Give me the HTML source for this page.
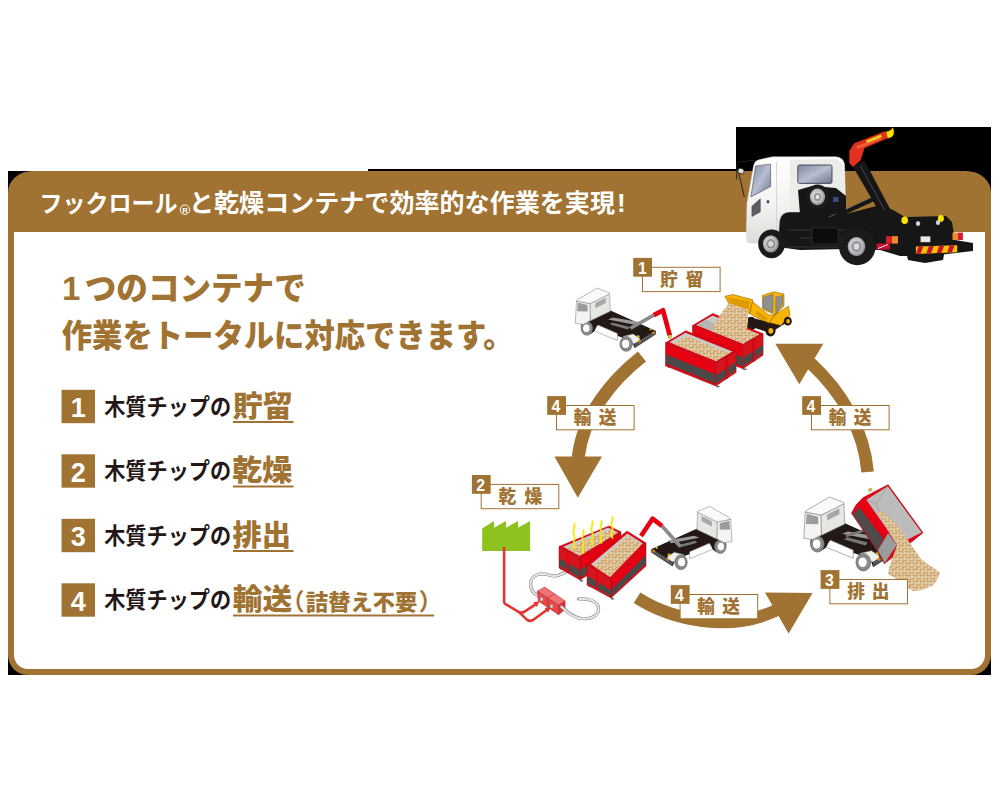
<!DOCTYPE html><html><head><meta charset="utf-8"><style>html,body{margin:0;padding:0;background:#fff}svg{display:block}text{font-family:"Liberation Sans","Noto Sans CJK JP",sans-serif}</style></head><body><svg width="1000" height="800" viewBox="0 0 1000 800"><defs><pattern id="chips" width="7" height="6" patternUnits="userSpaceOnUse"><rect width="7" height="6" fill="#d6b583"/><path d="M0.5 1.5l2.6 -1M3.8 3.4l2.4 0.9M1 4.6l2 -0.9M4.6 0.8l1.6 1.1" stroke="#f3e3c6" stroke-width="1.1"/><path d="M2.2 2.9l1.3 0.9M5.6 5.2l1 -0.8M0.2 3.4l0.9 0.5M3.2 5.6l1.2 0.2" stroke="#a77f4c" stroke-width="0.8"/></pattern><linearGradient id="gcab" x1="0" y1="0" x2="0" y2="1"><stop offset="0" stop-color="#ffffff"/><stop offset="0.55" stop-color="#f3f3f1"/><stop offset="1" stop-color="#dcdcda"/></linearGradient><linearGradient id="gwin" x1="0" y1="0" x2="1" y2="1"><stop offset="0" stop-color="#7d849c"/><stop offset="0.5" stop-color="#b9bed0"/><stop offset="1" stop-color="#6c728a"/></linearGradient><radialGradient id="grim" cx="0.45" cy="0.45" r="0.6"><stop offset="0" stop-color="#f2f2f2"/><stop offset="0.55" stop-color="#c4c6c9"/><stop offset="1" stop-color="#7e8185"/></radialGradient></defs><rect x="736" y="127" width="255" height="66" fill="#000"/><rect x="368" y="169" width="368" height="2" fill="#000"/><rect x="8" y="171" width="26" height="21" fill="#000"/><rect x="8" y="654" width="21" height="21" fill="#000"/><rect x="970" y="654" width="21" height="21" fill="#000"/><path fill="#A17332" d="M33 171H966A25 21 0 0 1 991 192V655A20 20 0 0 1 971 675H28A20 20 0 0 1 8 655V192A25 21 0 0 1 33 171Z"/><path fill="#fff" d="M14 232H985V655A14 14 0 0 1 971 669H28A14 14 0 0 1 14 655Z"/><text x="39.6" y="212.3" font-size="24" font-weight="700" fill="#fff" textLength="138" lengthAdjust="spacingAndGlyphs">フックロール</text><text x="188.96" y="212.3" font-size="25" font-weight="700" fill="#fff" textLength="426" lengthAdjust="spacingAndGlyphs">と乾燥コンテナで効率的な作業を実現</text><text x="617" y="212.3" font-size="26" font-weight="700" fill="#fff">!</text><circle cx="184.9" cy="209.7" r="4.7" fill="none" stroke="#fff" stroke-width="1"/><text x="185" y="212.6" font-size="7.6" font-weight="700" fill="#fff" text-anchor="middle">R</text><text x="62" y="300" font-size="33" font-weight="900" fill="#A17332">1</text><text x="84.76" y="300.2" font-size="32.6" font-weight="900" fill="#A17332" textLength="221" lengthAdjust="spacingAndGlyphs">つのコンテナで</text><text x="61.73" y="346.6" font-size="32" font-weight="900" fill="#A17332" textLength="452" lengthAdjust="spacingAndGlyphs">作業をトータルに対応できます。</text><rect x="61.5" y="389.8" width="33.5" height="33.4" fill="#A17332"/><text x="78.25" y="417" font-size="27" font-weight="700" fill="#fff" text-anchor="middle">1</text><text x="104.17" y="414.99" font-size="22.3" font-weight="700" fill="#231815" textLength="127" lengthAdjust="spacingAndGlyphs">木質チップの</text><text x="232.65" y="416.76" font-size="29" font-weight="900" fill="#A17332" textLength="60" lengthAdjust="spacingAndGlyphs">貯留</text><rect x="233" y="421.0" width="60.5" height="2" fill="#A17332"/><rect x="61.5" y="454.3" width="33.5" height="33.4" fill="#A17332"/><text x="78.25" y="482.3" font-size="27" font-weight="700" fill="#fff" text-anchor="middle">2</text><text x="104.17" y="479.49" font-size="22.3" font-weight="700" fill="#231815" textLength="127" lengthAdjust="spacingAndGlyphs">木質チップの</text><text x="232.16" y="481.26" font-size="29" font-weight="900" fill="#A17332" textLength="60" lengthAdjust="spacingAndGlyphs">乾燥</text><rect x="233" y="485.5" width="60.5" height="2" fill="#A17332"/><rect x="61.5" y="518.8" width="33.5" height="33.4" fill="#A17332"/><text x="78.25" y="546.41" font-size="27" font-weight="700" fill="#fff" text-anchor="middle">3</text><text x="104.17" y="543.99" font-size="22.3" font-weight="700" fill="#231815" textLength="127" lengthAdjust="spacingAndGlyphs">木質チップの</text><text x="232.51" y="545.76" font-size="29" font-weight="900" fill="#A17332" textLength="58.5" lengthAdjust="spacingAndGlyphs">排出</text><rect x="233" y="550.0" width="60.5" height="2" fill="#A17332"/><rect x="61.5" y="583.3" width="33.5" height="33.4" fill="#A17332"/><text x="78.25" y="611.3" font-size="27" font-weight="700" fill="#fff" text-anchor="middle">4</text><text x="104.17" y="608.49" font-size="22.3" font-weight="700" fill="#231815" textLength="127" lengthAdjust="spacingAndGlyphs">木質チップの</text><text x="232.7" y="610.26" font-size="29" font-weight="900" fill="#A17332" textLength="59.5" lengthAdjust="spacingAndGlyphs">輸送</text><rect x="233" y="614.5" width="201.0" height="2" fill="#A17332"/><text x="305.86" y="609.66" font-size="21.5" font-weight="900" fill="#A17332" textLength="111.4" lengthAdjust="spacingAndGlyphs">詰替え不要</text><text x="280.92" y="610.16" font-size="23.5" font-weight="700" fill="#A17332">（</text><text x="418.64" y="610.16" font-size="23.5" font-weight="700" fill="#A17332">）</text><path d="M642 356.5C612 380 583 415 578.2 457.5" fill="none" stroke="#A17332" stroke-width="13"/><path d="M554.4 456.4H602L577.8 497.7Z" fill="#A17332"/><path d="M867.6 472C864 430 842 392 810.5 363" fill="none" stroke="#A17332" stroke-width="12.5"/><path d="M775.3 343.8H823.3L799.3 384.2Z" fill="#A17332"/><path d="M637 597.8C672 620 730 633 778 609.5" fill="none" stroke="#A17332" stroke-width="12.5"/><path d="M765 592.4L812.6 593L788.6 633.6Z" fill="#A17332"/><path d="M596.0 316.0L610.5 310.5L656.0 331.0L655.5 334.5L634.5 348.0L632.0 341.0L582.5 323.5L585.0 318.0Z" fill="#231815"/><path d="M594.0 330.0L598.0 325.0L617.5 333.5L617.5 340.5L594.5 331.0Z" fill="#fff" stroke="#8c8c8c" stroke-width="0.6" stroke-linejoin="round"/><path d="M608.0 319.5L613.0 317.5L639.0 322.0L636.0 325.0Z" fill="#9a9a9a"/><path d="M612.0 322.5L630.0 327.0L628.0 329.5L610.0 324.5Z" fill="#777"/><path d="M623.0 336.5L633.0 334.0L640.0 338.5L638.0 345.0L627.0 341.0Z" fill="#f0f0ee" stroke="#8c8c8c" stroke-width="0.5" stroke-linejoin="round"/><path d="M634.5 343.5L655.3 330.5L655.8 334.0L635.0 348.0Z" fill="#555"/><circle cx="639.5" cy="341.3" r="1.3" fill="#f08300"/><circle cx="653.4" cy="332.8" r="1.3" fill="#f08300"/><circle cx="638.2" cy="336.6" r="1.4" fill="#d8c21a"/><circle cx="650.5" cy="329.5" r="1.1" fill="#d8c21a"/><ellipse cx="588.5" cy="326.5" rx="7.5" ry="7.5" fill="#231815"/><ellipse cx="586.9" cy="328.3" rx="5.9" ry="6.9" fill="#8a8a8a" stroke="#555" stroke-width="0.5"/><ellipse cx="586.3" cy="328.3" rx="3.2" ry="3.8" fill="#fff"/><ellipse cx="626.2" cy="343.9" rx="6.3" ry="7.4" fill="#8a8a8a" stroke="#555" stroke-width="0.5"/><ellipse cx="625.6" cy="343.9" rx="3.5" ry="4.1" fill="#fff"/><path d="M576.5 301.0L590.1 303.6L590.4 320.5L583.0 324.5L575.3 323.3Z" fill="#f4f4f2" stroke="#8c8c8c" stroke-width="0.6" stroke-linejoin="round"/><path d="M590.1 303.6L609.6 293.7L610.3 311.2L590.4 320.8Z" fill="#e6e6e3" stroke="#8c8c8c" stroke-width="0.6" stroke-linejoin="round"/><path d="M576.5 301.0L578.0 299.3L597.3 288.1L609.6 293.0L609.6 293.9L590.1 303.6Z" fill="#fafaf8" stroke="#8c8c8c" stroke-width="0.6" stroke-linejoin="round"/><path d="M577.8 302.4L587.6 304.9L587.6 311.4L577.1 311.2Z" fill="#9c9c9c"/><path d="M595.3 303.0L605.7 297.7L605.7 302.9L595.3 308.2Z" fill="#a8a8a8"/><path d="M630.5 328.3L653.8 315.1" stroke="#8a8a8a" stroke-width="3.6" fill="none"/><path d="M653.8 315.1L663.0 310.3L669.8 335.5" stroke="#e60012" stroke-width="4.7" stroke-linejoin="round" fill="none"/><rect x="668.2" y="335.0" width="3.2" height="3.2" fill="#e8d21a" stroke="#666" stroke-width="0.4"/><ellipse cx="751" cy="323.5" rx="5.8" ry="6.8" fill="#231815"/><path d="M752.0 318.0L770.0 322.0L780.0 316.0L786.0 323.0L770.0 333.0L752.0 327.0Z" fill="#231815"/><path d="M775.0 315.0L788.5 306.0L790.0 315.0L781.0 325.5L769.0 322.5Z" fill="#f8b500" stroke="#7a4a00" stroke-width="0.5" stroke-linejoin="round"/><path d="M752.5 301.5L769.0 315.0L775.0 315.0L769.0 323.0L757.0 318.0L749.5 313.5Z" fill="#f8b500" stroke="#7a4a00" stroke-width="0.5" stroke-linejoin="round"/><path d="M757.0 311.0L768.0 318.0L766.0 321.0L756.0 315.0Z" fill="#e09a00"/><path d="M762.3 295.5L773.5 291.8L784.0 294.0L784.0 306.0L775.0 315.0L763.0 309.0Z" fill="#f8b500" stroke="#7a4a00" stroke-width="0.5" stroke-linejoin="round"/><path d="M763.8 297.0L773.2 294.2L772.6 312.5L762.6 307.5Z" fill="#8f8f8f" stroke="#555" stroke-width="0.4" stroke-linejoin="round"/><path d="M775.8 297.0L782.5 295.6L782.5 304.5L775.8 314.0Z" fill="#8f8f8f" stroke="#555" stroke-width="0.4" stroke-linejoin="round"/><path d="M724.8 296.3L733.0 294.5L752.8 299.8L749.5 313.5L729.3 304.5Z" fill="#f8b500" stroke="#7a4a00" stroke-width="0.5" stroke-linejoin="round"/><path d="M727.0 297.2L750.0 301.2L748.0 310.5L730.5 303.3Z" fill="#e09a00"/><ellipse cx="770.5" cy="330.8" rx="5.1" ry="5.7" fill="#231815"/><ellipse cx="770.8" cy="330.8" rx="2.4" ry="2.9" fill="#f8b500"/><ellipse cx="787.8" cy="321.2" rx="4.0" ry="4.4" fill="#231815"/><ellipse cx="788.1" cy="321.2" rx="1.8" ry="2.2" fill="#f8b500"/><ellipse cx="696.0" cy="349.5" rx="2" ry="1" fill="#777"/><ellipse cx="744.8" cy="369.3" rx="2" ry="1" fill="#777"/><path d="M692.5 325.5L742.8 345.7L742.8 368.7L692.5 348.5Z" fill="#e60012" stroke="#8f0f12" stroke-width="0.5" stroke-linejoin="round"/><path d="M692.9 337.0L742.5 357.2L742.5 366.4L692.9 346.2Z" fill="#4d4848"/><path d="M742.8 345.7L763.1 333.7L763.1 355.2L742.8 368.7Z" fill="#d7141c" stroke="#8f0f12" stroke-width="0.5" stroke-linejoin="round"/><path d="M743.2 357.7L762.8 344.9L762.8 352.6L743.2 366.4Z" fill="#4d4848"/><path d="M752.9 339.7v22.2" stroke="#8f0f12" stroke-width="0.7"/><path d="M754.3 340.2v21.2" stroke="#e60012" stroke-width="1.6"/><path d="M692.5 325.5L712.8 313.5L763.1 333.7L742.8 345.7Z" fill="#e60012" stroke="#8f0f12" stroke-width="0.5" stroke-linejoin="round"/><clipPath id="cl1"><path d="M696.3 325.0L712.5 315.4L759.3 334.2L743.1 343.8Z" fill="#000"/></clipPath><path d="M696.3 325.0L712.5 315.4L759.3 334.2L743.1 343.8Z" fill="#c9caca"/><g clip-path="url(#cl1)"><path d="M696.3 325.0L705.4 319.6L752.2 338.4L743.1 343.8Z" fill="#b5b5b6"/><path d="M709.6 330.4L731.9 322.2L760.3 333.6L743.1 343.8Z" fill="url(#chips)"/></g><path d="M729.0 303.0L748.0 309.5L748.0 322.0L746.0 334.0L742.7 343.3L711.5 330.7L716.0 322.0L722.0 312.0Z" fill="url(#chips)"/><ellipse cx="669.0" cy="366.8" rx="2" ry="1" fill="#777"/><ellipse cx="717.8" cy="386.6" rx="2" ry="1" fill="#777"/><path d="M665.5 342.8L715.8 363.0L715.8 386.0L665.5 365.8Z" fill="#e60012" stroke="#8f0f12" stroke-width="0.5" stroke-linejoin="round"/><path d="M665.9 354.3L715.5 374.5L715.5 383.7L665.9 363.5Z" fill="#4d4848"/><path d="M715.8 363.0L736.1 351.0L736.1 372.5L715.8 386.0Z" fill="#d7141c" stroke="#8f0f12" stroke-width="0.5" stroke-linejoin="round"/><path d="M716.2 375.0L735.8 362.2L735.8 369.9L716.2 383.7Z" fill="#4d4848"/><path d="M725.9 357.0v22.2" stroke="#8f0f12" stroke-width="0.7"/><path d="M727.3 357.5v21.2" stroke="#e60012" stroke-width="1.6"/><path d="M665.5 342.8L685.8 330.8L736.1 351.0L715.8 363.0Z" fill="#e60012" stroke="#8f0f12" stroke-width="0.5" stroke-linejoin="round"/><clipPath id="cl2"><path d="M669.3 342.3L685.5 332.7L732.3 351.5L716.1 361.1Z" fill="#000"/></clipPath><path d="M669.3 342.3L685.5 332.7L732.3 351.5L716.1 361.1Z" fill="#c9caca"/><g clip-path="url(#cl2)"><path d="M670.5 345.5L686.7 335.9L733.5 354.7L717.3 364.3Z" fill="url(#chips)"/></g><path d="M482.2 551.0L482.2 528.6L494.0 520.9L494.0 527.7L506.1 520.9L506.1 527.7L518.1 520.9L518.1 527.7L530.1 520.9L530.1 551.0Z" fill="#8dc21f"/><path d="M504.1 546.9V601.5Q504.1 603.2 505.6 604.1L518.5 611.8Q521.6 613.6 524.6 611.6L535.5 604.3" fill="none" stroke="#e8342f" stroke-width="2.6"/><path d="M519 612L526.8 619.6Q530 622 533.4 619.7L546.8 610" fill="none" stroke="#e8342f" stroke-width="2.6"/><path d="M539.6 601.3L533.2 602.2L536.6 607.0Z" fill="#e8342f"/><path d="M551.0 606.8L544.6 607.9L548.2 612.6Z" fill="#e8342f"/><path d="M568 570.5C560 575 556 577.5 549 575C541 572 531 575 530.6 583C530.3 589.5 533.5 593.5 538 595.5" fill="none" stroke="#8a8a8a" stroke-width="3.2" stroke-linecap="round"/><path d="M568 570.5C560 575 556 577.5 549 575C541 572 531 575 530.6 583C530.3 589.5 533.5 593.5 538 595.5" fill="none" stroke="#e4e4e4" stroke-width="2.1" stroke-linecap="round" stroke-dasharray="1.3 0.9"/><path d="M537.4 591.1L558.6 604.9L558.6 614.7L538.2 600.9Z" fill="#e8474a" stroke="#b51f24" stroke-width="0.5" stroke-linejoin="round"/><path d="M558.6 604.9L565.1 600.9L565.1 609.2L558.6 614.7Z" fill="#d93237" stroke="#b51f24" stroke-width="0.5" stroke-linejoin="round"/><path d="M537.4 591.1L544.7 587.1L565.1 600.9L558.6 604.9Z" fill="#ef7475" stroke="#b51f24" stroke-width="0.5" stroke-linejoin="round"/><path d="M547.8 597.8L555 593.9M547.8 597.8V607.8" stroke="#b51f24" stroke-width="0.5" fill="none"/><ellipse cx="541.6" cy="599.2" rx="1.5" ry="1.9" fill="#ddd" stroke="#777" stroke-width="0.5"/><ellipse cx="551.6" cy="606.2" rx="1.5" ry="1.9" fill="#ddd" stroke="#777" stroke-width="0.5"/><path d="M561.5 606.8C567 611.5 571 616 579 618C590 620.5 598.5 616 598.6 608.5C598.7 601.5 589 598.3 578.5 599" fill="none" stroke="#8a8a8a" stroke-width="3.2" stroke-linecap="round"/><path d="M561.5 606.8C567 611.5 571 616 579 618C590 620.5 598.5 616 598.6 608.5C598.7 601.5 589 598.3 578.5 599" fill="none" stroke="#e4e4e4" stroke-width="2.1" stroke-linecap="round" stroke-dasharray="1.3 0.9"/><g transform="translate(1307.2,218.3) scale(-1,1)"><path d="M596.0 316.0L610.5 310.5L656.0 331.0L655.5 334.5L634.5 348.0L632.0 341.0L582.5 323.5L585.0 318.0Z" fill="#231815"/><path d="M594.0 330.0L598.0 325.0L617.5 333.5L617.5 340.5L594.5 331.0Z" fill="#fff" stroke="#8c8c8c" stroke-width="0.6" stroke-linejoin="round"/><path d="M608.0 319.5L613.0 317.5L639.0 322.0L636.0 325.0Z" fill="#9a9a9a"/><path d="M612.0 322.5L630.0 327.0L628.0 329.5L610.0 324.5Z" fill="#777"/><path d="M623.0 336.5L633.0 334.0L640.0 338.5L638.0 345.0L627.0 341.0Z" fill="#f0f0ee" stroke="#8c8c8c" stroke-width="0.5" stroke-linejoin="round"/><path d="M634.5 343.5L655.3 330.5L655.8 334.0L635.0 348.0Z" fill="#555"/><circle cx="639.5" cy="341.3" r="1.3" fill="#f08300"/><circle cx="653.4" cy="332.8" r="1.3" fill="#f08300"/><circle cx="638.2" cy="336.6" r="1.4" fill="#d8c21a"/><circle cx="650.5" cy="329.5" r="1.1" fill="#d8c21a"/><ellipse cx="588.5" cy="326.5" rx="7.5" ry="7.5" fill="#231815"/><ellipse cx="586.9" cy="328.3" rx="5.9" ry="6.9" fill="#8a8a8a" stroke="#555" stroke-width="0.5"/><ellipse cx="586.3" cy="328.3" rx="3.2" ry="3.8" fill="#fff"/><ellipse cx="626.2" cy="343.9" rx="6.3" ry="7.4" fill="#8a8a8a" stroke="#555" stroke-width="0.5"/><ellipse cx="625.6" cy="343.9" rx="3.5" ry="4.1" fill="#fff"/><path d="M576.5 301.0L590.1 303.6L590.4 320.5L583.0 324.5L575.3 323.3Z" fill="#f4f4f2" stroke="#8c8c8c" stroke-width="0.6" stroke-linejoin="round"/><path d="M590.1 303.6L609.6 293.7L610.3 311.2L590.4 320.8Z" fill="#e6e6e3" stroke="#8c8c8c" stroke-width="0.6" stroke-linejoin="round"/><path d="M576.5 301.0L578.0 299.3L597.3 288.1L609.6 293.0L609.6 293.9L590.1 303.6Z" fill="#fafaf8" stroke="#8c8c8c" stroke-width="0.6" stroke-linejoin="round"/><path d="M577.8 302.4L587.6 304.9L587.6 311.4L577.1 311.2Z" fill="#9c9c9c"/><path d="M595.3 303.0L605.7 297.7L605.7 302.9L595.3 308.2Z" fill="#a8a8a8"/><path d="M627.2 327.7L645.2 307.7" stroke="#8a8a8a" stroke-width="3.6" fill="none"/><path d="M645.2 307.7L654.6 300.4L666.2 317.7" stroke="#e60012" stroke-width="4.7" stroke-linejoin="round" fill="none"/></g><ellipse cx="561.5" cy="568.7" rx="1.8" ry="1" fill="#777"/><ellipse cx="581.5" cy="580.8" rx="1.8" ry="1" fill="#777"/><path d="M580.0 558.0L621.0 532.0L621.0 554.0L580.0 580.0Z" fill="#e60012" stroke="#8f0f12" stroke-width="0.5" stroke-linejoin="round"/><path d="M580.3 569.4L620.7 543.4L620.7 551.8L580.3 577.8Z" fill="#4d4848"/><path d="M559.0 546.4L580.0 558.0L580.0 580.0L559.0 567.9Z" fill="#d7141c" stroke="#8f0f12" stroke-width="0.5" stroke-linejoin="round"/><path d="M559.3 558.2L579.7 570.1L579.7 577.8L559.3 565.8Z" fill="#4d4848"/><path d="M567.8 551.8v20.8" stroke="#e60012" stroke-width="1.8"/><path d="M559.0 546.4L609.0 526.0L621.0 532.0L580.0 558.0Z" fill="#e60012" stroke="#8f0f12" stroke-width="0.5" stroke-linejoin="round"/><clipPath id="cl3"><path d="M563.1 546.7L608.2 527.4L618.1 532.4L579.6 555.8Z" fill="#000"/></clipPath><path d="M563.1 546.7L608.2 527.4L618.1 532.4L579.6 555.8Z" fill="#c9caca"/><g clip-path="url(#cl3)"><path d="M564.1 549.3L609.2 530.0L619.1 535.0L580.6 558.4Z" fill="url(#chips)"/></g><ellipse cx="589.5" cy="585.8" rx="1.8" ry="1" fill="#777"/><ellipse cx="612.5" cy="598.8" rx="1.8" ry="1" fill="#777"/><path d="M611.0 580.0L646.0 543.0L646.0 566.0L611.0 598.0Z" fill="#e60012" stroke="#8f0f12" stroke-width="0.5" stroke-linejoin="round"/><path d="M611.3 589.4L645.7 555.0L645.7 563.7L611.3 596.2Z" fill="#4d4848"/><path d="M587.0 564.0L611.0 580.0L611.0 598.0L587.0 585.0Z" fill="#d7141c" stroke="#8f0f12" stroke-width="0.5" stroke-linejoin="round"/><path d="M587.3 575.5L610.7 589.9L610.7 596.2L587.3 582.9Z" fill="#4d4848"/><path d="M597.1 571.2v18.5" stroke="#e60012" stroke-width="1.8"/><path d="M587.0 564.0L627.0 531.0L646.0 543.0L611.0 580.0Z" fill="#e60012" stroke="#8f0f12" stroke-width="0.5" stroke-linejoin="round"/><clipPath id="cl4"><path d="M591.0 564.3L627.3 533.5L642.7 543.3L610.0 576.9Z" fill="#000"/></clipPath><path d="M591.0 564.3L627.3 533.5L642.7 543.3L610.0 576.9Z" fill="#c9caca"/><g clip-path="url(#cl4)"><path d="M592.0 566.9L628.3 536.1L643.7 545.9L611.0 579.5Z" fill="url(#chips)"/></g><path d="M574.5 548.0C571.4 542.7 576.6 540.1 574.0 534.8S576.4 527.6 574.3 524.0" fill="none" stroke="#ffe600" stroke-width="1.8" stroke-linecap="round"/><path d="M583.5 553.0C580.4 547.9 585.6 545.4 583.0 540.4S585.4 533.5 583.3 530.0" fill="none" stroke="#ffe600" stroke-width="1.8" stroke-linecap="round"/><path d="M592.5 545.0C589.4 539.7 594.6 537.1 592.0 531.8S594.4 524.6 592.3 521.0" fill="none" stroke="#ffe600" stroke-width="1.8" stroke-linecap="round"/><path d="M601.5 543.0C598.4 538.2 603.6 535.7 601.0 530.9S603.4 524.3 601.3 521.0" fill="none" stroke="#ffe600" stroke-width="1.8" stroke-linecap="round"/><path d="M612.5 538.0C609.4 533.4 614.6 531.1 612.0 526.5S614.4 520.1 612.3 517.0" fill="none" stroke="#ffe600" stroke-width="1.8" stroke-linecap="round"/><g transform="translate(130.7,159.9) scale(1.17)"><path d="M596.0 316.0L610.5 310.5L656.0 331.0L655.5 334.5L634.5 348.0L632.0 341.0L582.5 323.5L585.0 318.0Z" fill="#231815"/><path d="M594.0 330.0L598.0 325.0L617.5 333.5L617.5 340.5L594.5 331.0Z" fill="#fff" stroke="#8c8c8c" stroke-width="0.6" stroke-linejoin="round"/><path d="M608.0 319.5L613.0 317.5L639.0 322.0L636.0 325.0Z" fill="#9a9a9a"/><path d="M612.0 322.5L630.0 327.0L628.0 329.5L610.0 324.5Z" fill="#777"/><path d="M623.0 336.5L633.0 334.0L640.0 338.5L638.0 345.0L627.0 341.0Z" fill="#f0f0ee" stroke="#8c8c8c" stroke-width="0.5" stroke-linejoin="round"/><path d="M634.5 343.5L655.3 330.5L655.8 334.0L635.0 348.0Z" fill="#555"/><circle cx="639.5" cy="341.3" r="1.3" fill="#f08300"/><circle cx="653.4" cy="332.8" r="1.3" fill="#f08300"/><circle cx="638.2" cy="336.6" r="1.4" fill="#d8c21a"/><circle cx="650.5" cy="329.5" r="1.1" fill="#d8c21a"/><ellipse cx="588.5" cy="326.5" rx="7.5" ry="7.5" fill="#231815"/><ellipse cx="586.9" cy="328.3" rx="5.9" ry="6.9" fill="#8a8a8a" stroke="#555" stroke-width="0.5"/><ellipse cx="586.3" cy="328.3" rx="3.2" ry="3.8" fill="#fff"/><ellipse cx="626.2" cy="343.9" rx="6.3" ry="7.4" fill="#8a8a8a" stroke="#555" stroke-width="0.5"/><ellipse cx="625.6" cy="343.9" rx="3.5" ry="4.1" fill="#fff"/><path d="M576.5 301.0L590.1 303.6L590.4 320.5L583.0 324.5L575.3 323.3Z" fill="#f4f4f2" stroke="#8c8c8c" stroke-width="0.6" stroke-linejoin="round"/><path d="M590.1 303.6L609.6 293.7L610.3 311.2L590.4 320.8Z" fill="#e6e6e3" stroke="#8c8c8c" stroke-width="0.6" stroke-linejoin="round"/><path d="M576.5 301.0L578.0 299.3L597.3 288.1L609.6 293.0L609.6 293.9L590.1 303.6Z" fill="#fafaf8" stroke="#8c8c8c" stroke-width="0.6" stroke-linejoin="round"/><path d="M577.8 302.4L587.6 304.9L587.6 311.4L577.1 311.2Z" fill="#9c9c9c"/><path d="M595.3 303.0L605.7 297.7L605.7 302.9L595.3 308.2Z" fill="#a8a8a8"/></g><path d="M846 536L872 528" stroke="#777" stroke-width="2.6"/><path d="M851.5 513.2L856.0 505.0L862.9 497.7L888.1 484.7L923.0 532.7L884.4 563.8L877.2 551.0Z" fill="#e60012" stroke="#8f0f12" stroke-width="0.6" stroke-linejoin="round"/><path d="M852.6 514.0L859.4 507.6L883.2 538.6L877.7 550.4Z" fill="#4f4b4b"/><path d="M866.3 499.8L887.8 486.2L921.6 532.6L897.0 544.9L888.9 531.9Z" fill="#bcbcbd"/><path d="M866.3 499.8L876 503.5L888.9 531.9M876 503.5L887.8 486.2" stroke="#8d8d8d" stroke-width="0.5" fill="none"/><path d="M877.8 550.6L888.1 532.9L896.8 545.0L884.8 563.0Z" fill="#9c9c9d" stroke="#666" stroke-width="0.4" stroke-linejoin="round"/><rect x="868.5" y="488.8" width="3.4" height="2.4" fill="#e8d21a" stroke="#666" stroke-width="0.4" transform="rotate(-28 870 490)"/><path d="M877.5 511.6L884.0 512.4L900.2 528.6L910.0 543.2L921.4 559.5L940.1 572.5L936.5 581.0L932.7 585.5L922.0 590.0L913.2 591.2L905.0 586.5L898.6 580.6L888.1 574.1L889.5 566.0L892.1 559.5L897.0 544.9L888.9 531.9Z" fill="url(#chips)"/><path d="M778.0 196.0L846.0 196.0L846.0 214.0L880.0 205.0L893.0 210.0L905.0 217.0L946.0 216.0L952.0 222.0L955.0 240.0L973.0 243.0L973.0 251.0L930.0 256.0L900.0 256.0L880.0 250.0L846.0 249.0L800.0 250.0L778.0 247.0Z" fill="#161616"/><path d="M905.6 249.4L945.0 249.4L943.0 260.0L925.0 263.0L908.0 260.0Z" fill="#161616"/><path d="M826 221L874.5 198.5" stroke="#161616" stroke-width="4.2"/><path d="M829 217L872 197" stroke="#6d6d6d" stroke-width="0.8"/><path d="M853.1 166.9L864.4 160.3L890.6 210.0L880.0 213.0Z" fill="#161616"/><path d="M860.5 166L884.5 210" stroke="#4a4a4a" stroke-width="1"/><path d="M849.4 150.9L854.1 143.4L885.0 131.3L888.8 137.8L864.4 148.1L860.6 160.3L853.1 166.9L849.4 163.1Z" fill="#e2321f" stroke="#9c1c10" stroke-width="0.5" stroke-linejoin="round"/><path d="M856.0 146.5L880.0 137.0L881.5 139.5L858.0 149.0Z" fill="#f25a3a"/><path d="M866.0 140.6L881.0 134.6L882.0 137.0L867.0 143.0Z" fill="#e8d21a"/><path d="M886 131.8C889.5 131 892 129.8 892.6 127.4C894.6 130.5 894.4 135 891.5 137C890 138 888.6 138.2 887.6 137.8Z" fill="#ffe100" stroke="#a08c00" stroke-width="0.4"/><path d="M746.3 231L747 203L753.6 165.5Q754.6 160.6 759.6 159.6L772.5 156.8H836Q843.4 157.4 844.6 164.5L845.6 204V212H790Q781 212 779.5 221L778 243.4L752 243L747.2 242.6Z" fill="url(#gcab)" stroke="#cfcfcc" stroke-width="0.5"/><path d="M790.0 160.0L836.0 158.5L843.5 165.0L844.6 210.0L790.0 210.0Z" fill="#ecece9"/><path d="M776.5 162V236" stroke="#c9c9c6" stroke-width="0.7"/><path d="M755.6 165.9L770.6 164.1L770.6 186.6L750.9 196.9Z" fill="url(#gwin)" stroke="#4b4f5c" stroke-width="0.6" stroke-linejoin="round"/><path d="M751.9 206.3L760.3 198.8L760.3 211.9L751.9 216.6Z" fill="#5a5d66" stroke="#3c3e45" stroke-width="0.5" stroke-linejoin="round"/><rect x="797.8" y="165" width="34.2" height="18.4" rx="1.6" fill="url(#gwin)" stroke="#3f4350" stroke-width="0.9"/><ellipse cx="768" cy="201.8" rx="1.3" ry="1.8" fill="#444"/><path d="M753 160.5L738.5 162Q736.6 163 736.8 166V179.5M738 170L744.4 197" fill="none" stroke="#222" stroke-width="1"/><ellipse cx="741" cy="171" rx="3.2" ry="2.6" fill="#dfe3ea" stroke="#222" stroke-width="0.7" transform="rotate(25 741 171)"/><path d="M798.0 190.0L812.0 186.0L836.0 188.0L846.0 196.0L846.0 214.0L800.0 214.0Z" fill="#161616"/><ellipse cx="817.5" cy="196.9" rx="11.6" ry="12.4" fill="#1b1b1b"/><ellipse cx="817.5" cy="196.9" rx="7.6" ry="8.3" fill="url(#grim)"/><ellipse cx="817.5" cy="196.9" rx="3.6" ry="4" fill="#8d9094"/><ellipse cx="817.5" cy="196.9" rx="2" ry="2.2" fill="#e4e5e6"/><rect x="833" y="197" width="5.5" height="5" fill="#3a4c86"/><path d="M786 230H846M800 238H846M786 247H846" stroke="#3a3a3a" stroke-width="0.8"/><rect x="812" y="228" width="26" height="16" fill="#0c0c0c" stroke="#3a3a3a" stroke-width="0.6"/><ellipse cx="904.7" cy="220.3" rx="3.3" ry="3.8" fill="#ffe100"/><ellipse cx="940.9" cy="218.4" rx="3" ry="3.4" fill="#ffe100"/><rect x="886" y="236.2" width="6" height="7.4" fill="#d4202a"/><rect x="892" y="236.2" width="6" height="7.4" fill="#f08a24"/><rect x="952.5" y="232.6" width="5.2" height="7.4" fill="#f08a24"/><rect x="957.7" y="232.6" width="5.2" height="7.4" fill="#d4202a"/><rect x="920.6" y="236.3" width="9.6" height="5.8" fill="#e9e9ee" stroke="#777" stroke-width="0.4"/><path d="M915.9 246.6L957.2 245.3L957.2 252.2L915.9 254.1Z" fill="#f5c400"/><path d="M918.4 246.5L923.4 246.3L920.5 253.8L915.9 254.0Z" fill="#c8102e"/><path d="M928.8 246.2L933.8 246.0L930.9 253.4L926.3 253.6Z" fill="#c8102e"/><path d="M939.2 245.9L944.2 245.7L941.3 252.9L936.7 253.1Z" fill="#c8102e"/><path d="M949.6 245.6L954.6 245.4L951.7 252.5L947.1 252.7Z" fill="#c8102e"/><path d="M876.5 243.5L890.0 243.5L890.0 249.5L876.5 249.5Z" fill="#c8102e"/><path d="M878 248.5L888 244.5" stroke="#fff" stroke-width="0.9"/><ellipse cx="918" cy="223.5" rx="2.1" ry="2.6" fill="#d7d7da"/><ellipse cx="938" cy="222.5" rx="2.1" ry="2.6" fill="#d7d7da"/><ellipse cx="771.6" cy="243.8" rx="13.4" ry="14.4" fill="#1b1b1b"/><ellipse cx="770.8" cy="243.8" rx="7.9" ry="8.6" fill="url(#grim)"/><ellipse cx="770.8" cy="243.8" rx="4.5" ry="4.8" fill="#8d9094"/><ellipse cx="770.8" cy="243.8" rx="2.6" ry="2.8" fill="#d9dadc"/><ellipse cx="857.3" cy="246.5" rx="18.3" ry="18.8" fill="#1b1b1b"/><ellipse cx="856.5" cy="246.5" rx="8.8" ry="9.6" fill="url(#grim)"/><ellipse cx="856.5" cy="246.5" rx="5.0" ry="5.4" fill="#8d9094"/><ellipse cx="856.5" cy="246.5" rx="2.9" ry="3.2" fill="#d9dadc"/><rect x="642.5" y="267.3" width="77.6" height="24.3" fill="#fff" stroke="#A17332" stroke-width="1"/><rect x="633.2" y="257.9" width="18.8" height="18.8" fill="#A17332"/><text x="642.4" y="273.7" font-size="15.8" font-weight="700" fill="#fff" text-anchor="middle">1</text><text x="659.99" y="285.67" font-size="17.7" font-weight="900" fill="#A17332" textLength="43.4" lengthAdjust="spacing">貯留</text><rect x="556.5" y="405.5" width="77.6" height="24.3" fill="#fff" stroke="#A17332" stroke-width="1"/><rect x="547.2" y="396.1" width="18.8" height="18.8" fill="#A17332"/><text x="555.8" y="412" font-size="15.8" font-weight="700" fill="#fff" text-anchor="middle">4</text><text x="573.68" y="423.87" font-size="17.7" font-weight="900" fill="#A17332" textLength="42.7" lengthAdjust="spacing">輸送</text><rect x="811.5" y="405.5" width="77.6" height="24.3" fill="#fff" stroke="#A17332" stroke-width="1"/><rect x="802.2" y="396.1" width="18.8" height="18.8" fill="#A17332"/><text x="810.8" y="412" font-size="15.8" font-weight="700" fill="#fff" text-anchor="middle">4</text><text x="828.68" y="423.87" font-size="17.7" font-weight="900" fill="#A17332" textLength="42.7" lengthAdjust="spacing">輸送</text><rect x="481.2" y="484.4" width="77.6" height="24.3" fill="#fff" stroke="#A17332" stroke-width="1"/><rect x="471.9" y="475.0" width="18.8" height="18.8" fill="#A17332"/><text x="480.6" y="490.9" font-size="15.8" font-weight="700" fill="#fff" text-anchor="middle">2</text><text x="498.39" y="502.77" font-size="17.7" font-weight="900" fill="#A17332" textLength="43.8" lengthAdjust="spacing">乾燥</text><rect x="680.1" y="594.5" width="77.6" height="24.3" fill="#fff" stroke="#A17332" stroke-width="1"/><rect x="670.8" y="585.1" width="18.8" height="18.8" fill="#A17332"/><text x="679.4" y="601" font-size="15.8" font-weight="700" fill="#fff" text-anchor="middle">4</text><text x="697.28" y="612.87" font-size="17.7" font-weight="900" fill="#A17332" textLength="42.7" lengthAdjust="spacing">輸送</text><rect x="829.9" y="579.5" width="77.6" height="24.3" fill="#fff" stroke="#A17332" stroke-width="1"/><rect x="820.6" y="570.1" width="18.8" height="18.8" fill="#A17332"/><text x="829.3" y="585.78" font-size="15.8" font-weight="700" fill="#fff" text-anchor="middle">3</text><text x="847.3" y="597.87" font-size="17.7" font-weight="900" fill="#A17332" textLength="42.1" lengthAdjust="spacing">排出</text></svg></body></html>
